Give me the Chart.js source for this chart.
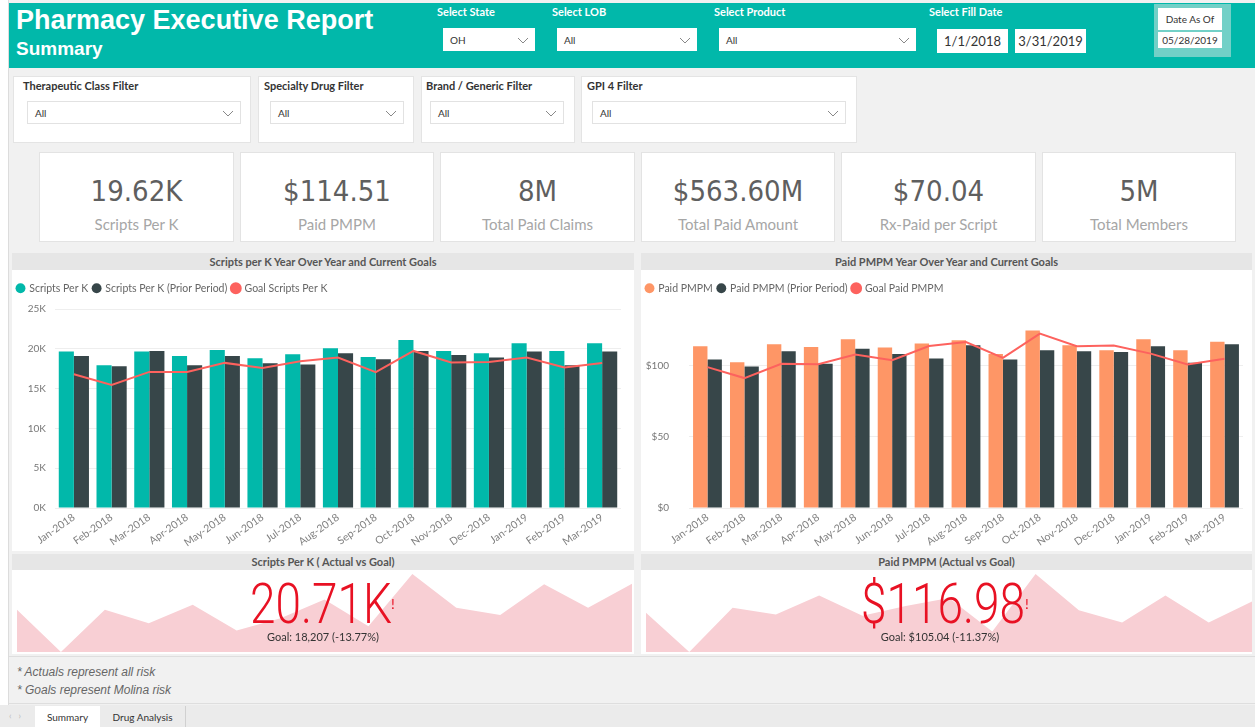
<!DOCTYPE html>
<html>
<head>
<meta charset="utf-8">
<script src="https://cdn.jsdelivr.net/npm/chart.js@4.4.1/dist/chart.umd.min.js"></script>
<style>
  body { margin: 0; width: 1255px; height: 727px; position: relative; overflow: hidden; background: #fff; font-family: Lato, "Open Sans", sans-serif; }
  div, canvas, span { box-sizing: border-box; }
  .a { position: absolute; }
  .report { left: 8px; top: 0; width: 1247px; height: 705px; background: #f1f1f1; border-left: 1px solid #dcdcdc; }
  .band { left: 9px; top: 3px; width: 1246px; height: 65px; background: #01b8aa; }
  .title { left: 16px; top: 5px; color: #fff; font: bold 27px "Liberation Sans", Arial, sans-serif; white-space: nowrap; }
  .subtitle { left: 16px; top: 38px; color: #fff; font: bold 19px "Liberation Sans", Arial, sans-serif; }
  .slab { color: #fff; font-weight: bold; font-size: 11px; white-space: nowrap; }
  .dd { background: #fff; font-size: 10px; color: #333; padding-left: 7px; display: flex; align-items: center; }
  .dd svg { position: absolute; right: 6px; top: 50%; margin-top: -3px; }
  .dd.b { border: 1px solid #e2e2e2; }
  .datebox { background: #fff; font-size: 13px; color: #333; display: flex; align-items: center; justify-content: center; }
  .panel { background: #fff; border: 1px solid #e4e4e4; }
  .plab { font-weight: bold; font-size: 11px; color: #333; white-space: nowrap; }
  .kpi { background: #fff; border: 1px solid #e3e3e3; text-align: center; }
  .kv { position: absolute; left: 0; width: 100%; top: 21px; font: 29px "DejaVu Sans Condensed", Roboto, sans-serif; color: #5f5f5f; }
  .kl { position: absolute; left: 0; width: 100%; top: 62px; font-size: 15px; color: #a6a6a6; }
  .hbar { background: #e6e6e6; font-weight: bold; font-size: 11px; color: #555; text-align: center; line-height: 17px; }
  .big { color: #e81123; font-family: Roboto, sans-serif; font-weight: 300; font-size: 56px; line-height: 56px; white-space: nowrap; transform: scaleX(0.82); transform-origin: center; text-align: center; }
  .bang { color: #e81123; font-size: 14px; }
  .goal { font-size: 11px; color: #333; text-align: center; white-space: nowrap; }
  .note { font: italic 12px "Liberation Sans", Arial, sans-serif; color: #666; }
  .tab { font-size: 10px; color: #333; display: flex; align-items: center; justify-content: center; }
</style>
</head>
<body>
<div class="a report"></div>
<div class="a band"></div>
<div class="a title">Pharmacy Executive Report</div>
<div class="a subtitle">Summary</div>

<div class="a slab" style="left:437px;top:5px;">Select State</div>
<div class="a dd" style="left:443px;top:28px;width:92px;height:23px;">OH<svg width="12" height="7"><polyline points="1,1 6,6 11,1" fill="none" stroke="#888" stroke-width="1"/></svg></div>
<div class="a slab" style="left:552px;top:5px;">Select LOB</div>
<div class="a dd" style="left:557px;top:28px;width:140px;height:23px;">All<svg width="12" height="7"><polyline points="1,1 6,6 11,1" fill="none" stroke="#888" stroke-width="1"/></svg></div>
<div class="a slab" style="left:714px;top:5px;">Select Product</div>
<div class="a dd" style="left:719px;top:28px;width:197px;height:23px;">All<svg width="12" height="7"><polyline points="1,1 6,6 11,1" fill="none" stroke="#888" stroke-width="1"/></svg></div>
<div class="a slab" style="left:929px;top:5px;">Select Fill Date</div>
<div class="a datebox" style="left:937px;top:29px;width:71px;height:24px;">1/1/2018</div>
<div class="a datebox" style="left:1015px;top:29px;width:71px;height:24px;">3/31/2019</div>
<div class="a" style="left:1154px;top:4px;width:77px;height:53px;background:#72d0c7;"></div>
<div class="a datebox" style="left:1158px;top:8px;width:64px;height:22px;font-size:10px;">Date As Of</div>
<div class="a datebox" style="left:1158px;top:32px;width:64px;height:16px;font-size:10px;">05/28/2019</div>

<div class="a panel" style="left:13px;top:76px;width:238px;height:67px;"></div>
<div class="a plab" style="left:23px;top:79px;">Therapeutic Class Filter</div>
<div class="a dd b" style="left:27px;top:101px;width:214px;height:23px;">All<svg width="12" height="7"><polyline points="1,1 6,6 11,1" fill="none" stroke="#888" stroke-width="1"/></svg></div>
<div class="a panel" style="left:258px;top:76px;width:156px;height:67px;"></div>
<div class="a plab" style="left:264px;top:79px;">Specialty Drug Filter</div>
<div class="a dd b" style="left:270px;top:101px;width:134px;height:23px;">All<svg width="12" height="7"><polyline points="1,1 6,6 11,1" fill="none" stroke="#888" stroke-width="1"/></svg></div>
<div class="a panel" style="left:421px;top:76px;width:154px;height:67px;"></div>
<div class="a plab" style="left:426px;top:79px;">Brand / Generic Filter</div>
<div class="a dd b" style="left:430px;top:101px;width:134px;height:23px;">All<svg width="12" height="7"><polyline points="1,1 6,6 11,1" fill="none" stroke="#888" stroke-width="1"/></svg></div>
<div class="a panel" style="left:581px;top:76px;width:276px;height:67px;"></div>
<div class="a plab" style="left:587px;top:79px;">GPI 4 Filter</div>
<div class="a dd b" style="left:592px;top:101px;width:254px;height:23px;">All<svg width="12" height="7"><polyline points="1,1 6,6 11,1" fill="none" stroke="#888" stroke-width="1"/></svg></div>

<div class="a kpi" style="left:39px;top:152px;width:195px;height:90px;"><div class="kv">19.62K</div><div class="kl">Scripts Per K</div></div>
<div class="a kpi" style="left:240px;top:152px;width:194px;height:90px;"><div class="kv">$114.51</div><div class="kl">Paid PMPM</div></div>
<div class="a kpi" style="left:440px;top:152px;width:195px;height:90px;"><div class="kv">8M</div><div class="kl">Total Paid Claims</div></div>
<div class="a kpi" style="left:641px;top:152px;width:194px;height:90px;"><div class="kv">$563.60M</div><div class="kl">Total Paid Amount</div></div>
<div class="a kpi" style="left:841px;top:152px;width:195px;height:90px;"><div class="kv">$70.04</div><div class="kl">Rx-Paid per Script</div></div>
<div class="a kpi" style="left:1042px;top:152px;width:194px;height:90px;"><div class="kv">5M</div><div class="kl">Total Members</div></div>

<div class="a hbar" style="left:12px;top:253px;width:622px;height:17px;">Scripts per K Year Over Year and Current Goals</div>
<div class="a" style="left:12px;top:270px;width:622px;height:281px;background:#fff;"></div>
<div class="a" style="left:12px;top:272px;width:622px;height:279px;"><canvas id="scriptsChart"></canvas></div>

<div class="a hbar" style="left:641px;top:253px;width:611px;height:17px;">Paid PMPM Year Over Year and Current Goals</div>
<div class="a" style="left:641px;top:270px;width:611px;height:281px;background:#fff;"></div>
<div class="a" style="left:641px;top:272px;width:611px;height:279px;"><canvas id="pmpmChart"></canvas></div>

<div class="a hbar" style="left:12px;top:554px;width:622px;height:16px;line-height:16px;">Scripts Per K ( Actual vs Goal)</div>
<div class="a" style="left:12px;top:570px;width:622px;height:84px;background:#fff;"></div>
<div class="a" style="left:17px;top:574px;width:615px;height:78px;"><canvas id="scriptsSpark"></canvas></div>
<div class="a big" style="left:221px;top:576px;width:200px;">20.71K</div>
<div class="a bang" style="left:391px;top:595px;">!</div>
<div class="a goal" style="left:223px;top:630px;width:200px;">Goal: 18,207 (-13.77%)</div>

<div class="a hbar" style="left:641px;top:554px;width:611px;height:16px;line-height:16px;">Paid PMPM (Actual vs Goal)</div>
<div class="a" style="left:641px;top:570px;width:611px;height:84px;background:#fff;"></div>
<div class="a" style="left:646px;top:574px;width:606px;height:78px;"><canvas id="pmpmSpark"></canvas></div>
<div class="a big" style="left:833px;top:576px;width:220px;">$116.98</div>
<div class="a bang" style="left:1025px;top:595px;">!</div>
<div class="a goal" style="left:840px;top:630px;width:200px;">Goal: $105.04 (-11.37%)</div>

<div class="a" style="left:9px;top:656px;width:1246px;height:48px;border-top:1px solid #dedede;border-bottom:1px solid #dedede;"></div>
<div class="a note" style="left:17px;top:665px;">* Actuals represent all risk</div>
<div class="a note" style="left:17px;top:683px;">* Goals represent Molina risk</div>

<div class="a" style="left:0;top:705px;width:1255px;height:22px;background:#ebebeb;"></div>
<div class="a" style="left:9px;top:710px;font-size:9px;color:#bbb;">&lsaquo;&nbsp;&nbsp;&nbsp;&rsaquo;</div>
<div class="a tab" style="left:35px;top:706px;width:65px;height:21px;background:#fff;">Summary</div>
<div class="a tab" style="left:100px;top:706px;width:86px;height:21px;border-right:1px solid #d0d0d0;">Drug Analysis</div>

<script>
const months = ["Jan-2018", "Feb-2018", "Mar-2018", "Apr-2018", "May-2018", "Jun-2018", "Jul-2018", "Aug-2018",
  "Sep-2018", "Oct-2018", "Nov-2018", "Dec-2018", "Jan-2019", "Feb-2019", "Mar-2019"];

const scriptsPerK = [19650, 17930, 19650, 19100, 19860, 18810, 19310, 20070, 18980, 21110, 19730, 19440, 20690, 19730, 20710];
const scriptsPerKPrior = [19100, 17810, 19730, 17930, 19100, 18180, 18020, 19440, 18690, 19730, 19230, 18900, 19650, 17930, 19650];
const goalScriptsPerK = [16810, 15470, 17100, 17100, 18230, 17600, 18440, 18900, 17060, 19730, 18270, 18350, 18900, 17640, 18207];

const paidPmpm = [113.8, 102.6, 115.2, 113.3, 118.7, 112.9, 115.7, 118.0, 108.4, 124.8, 114.5, 111.0, 118.7, 111.0, 116.98];
const paidPmpmPrior = [104.4, 99.5, 110.3, 101.4, 112.1, 108.4, 105.1, 114.5, 104.4, 111.0, 110.3, 109.8, 113.8, 102.1, 115.2];
const goalPaidPmpm = [99.1, 91.4, 101.4, 101.2, 107.9, 104.0, 114.0, 116.8, 105.6, 122.7, 113.8, 114.3, 108.6, 100.9, 105.04];

Chart.defaults.font.family = 'Lato, "Open Sans", sans-serif';
Chart.defaults.color = "#777";
Chart.defaults.animation = false;

// legend box gets a fixed height so the plot top lines up
const legendHeight = {
  id: "legendHeight",
  beforeInit(chart) {
    const fit = chart.legend.fit;
    chart.legend.fit = function () {
      fit.call(this);
      this.height = 31;
    };
  },
};

function comboChart(id, names, cur, prior, goal, curColor, yWidth, padRight, catPct, yScale) {
  const ctx = document.getElementById(id).getContext("2d");
  return new Chart(ctx, {
    type: "bar",
    data: {
      labels: months,
      datasets: [
        { label: names[0], data: cur, backgroundColor: curColor, order: 1, categoryPercentage: catPct, barPercentage: 1 },
        { label: names[1], data: prior, backgroundColor: "#374649", order: 1, categoryPercentage: catPct, barPercentage: 1 },
        {
          type: "line", label: names[2], data: goal, borderColor: "#fd625e", backgroundColor: "#fd625e",
          borderWidth: 2, pointRadius: 0, tension: 0, order: 0,
        },
      ],
    },
    options: {
      responsive: true,
      maintainAspectRatio: false,
      layout: { padding: { left: 0, right: padRight, top: 6, bottom: 0 } },
      plugins: {
        legend: {
          position: "top",
          align: "start",
          labels: {
            usePointStyle: true,
            pointStyle: "circle",
            boxWidth: 7,
            boxHeight: 7,
            padding: 5,
            color: "#666",
            font: { size: 10.5 },
            sort: (a, b) => a.datasetIndex - b.datasetIndex,
          },
        },
        tooltip: { enabled: false },
      },
      scales: {
        x: {
          grid: { display: false, drawTicks: false },
          border: { display: false },
          ticks: { minRotation: 35, maxRotation: 35, color: "#808080", font: { size: 10.5 }, padding: 3 },
          afterFit(scale) { scale.height = 43; },
        },
        y: Object.assign({
          beginAtZero: true,
          border: { display: false },
          afterFit(scale) { scale.width = yWidth; },
        }, yScale),
      },
    },
    plugins: [legendHeight],
  });
}

comboChart("scriptsChart", ["Scripts Per K", "Scripts Per K (Prior Period)", "Goal Scripts Per K"],
  scriptsPerK, scriptsPerKPrior, goalScriptsPerK, "#01b8aa", 43, 13, 0.8, {
    min: 0, max: 25000,
    grid: { color: "#eeeeee", drawTicks: false },
    ticks: { stepSize: 5000, padding: 9, color: "#777", font: { size: 10 }, callback: (v) => v / 1000 + "K" },
  });

comboChart("pmpmChart", ["Paid PMPM", "Paid PMPM (Prior Period)", "Goal Paid PMPM"],
  paidPmpm, paidPmpmPrior, goalPaidPmpm, "#fe9666", 48, 9, 0.78, {
    min: 0, max: 140,
    grid: { color: (c) => (c.tick && c.tick.value % 50 === 0 ? "#eeeeee" : "rgba(0,0,0,0)"), drawTicks: false },
    ticks: { stepSize: 50, padding: 20, color: "#777", font: { size: 10 }, callback: (v) => (v % 50 === 0 ? "$" + v : "") },
  });

function sparkline(id, values) {
  const ctx = document.getElementById(id).getContext("2d");
  return new Chart(ctx, {
    type: "line",
    data: {
      labels: months,
      datasets: [{ data: values, fill: "start", backgroundColor: "#f8cfd4", borderWidth: 0, pointRadius: 0, tension: 0 }],
    },
    options: {
      responsive: true,
      maintainAspectRatio: false,
      layout: { padding: 0 },
      plugins: { legend: { display: false }, tooltip: { enabled: false } },
      scales: {
        x: { display: false, offset: false },
        y: { display: false, min: Math.min(...values), max: Math.max(...values) },
      },
    },
  });
}

sparkline("scriptsSpark", scriptsPerK);
sparkline("pmpmSpark", paidPmpm);
</script>
</body>
</html>
